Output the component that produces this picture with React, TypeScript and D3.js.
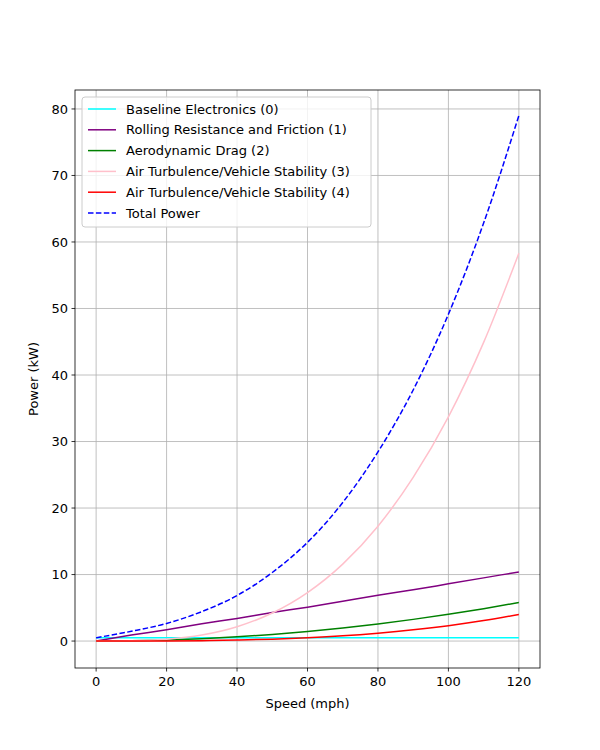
import React from 'react';
import * as d3 from 'd3';

const speeds = [0, 10, 20, 30, 40, 50, 60, 70, 80, 90, 100, 110, 120];
const baseline = [0.5, 0.5, 0.5, 0.5, 0.5, 0.5, 0.5, 0.5, 0.5, 0.5, 0.5, 0.5, 0.5];
const rolling = [0, 0.9, 1.7, 2.6, 3.4, 4.3, 5.1, 6.0, 6.9, 7.7, 8.6, 9.5, 10.4];
const aero = [0, 0.04, 0.16, 0.36, 0.64, 1.0, 1.45, 1.97, 2.58, 3.26, 4.03, 4.87, 5.8];
const turb3 = [0, 0.03, 0.27, 0.91, 2.16, 4.22, 7.29, 11.57, 17.27, 24.6, 33.7, 44.9, 58.3];
const turb4 = [0, 0.002, 0.02, 0.06, 0.15, 0.29, 0.5, 0.79, 1.19, 1.69, 2.31, 3.08, 4.0];
const total = [0.5, 1.47, 2.65, 4.43, 6.85, 10.31, 14.84, 20.83, 28.44, 37.75, 49.14, 62.85, 79.0];

const xTicks = [0, 20, 40, 60, 80, 100, 120];
const yTicks = [0, 10, 20, 30, 40, 50, 60, 70, 80];

const series = [
  { name: 'Baseline Electronics (0)', values: baseline, color: 'cyan', dash: '' },
  { name: 'Rolling Resistance and Friction (1)', values: rolling, color: 'purple', dash: '' },
  { name: 'Aerodynamic Drag (2)', values: aero, color: 'green', dash: '' },
  { name: 'Air Turbulence/Vehicle Stability (3)', values: turb3, color: 'pink', dash: '' },
  { name: 'Air Turbulence/Vehicle Stability (4)', values: turb4, color: 'red', dash: '' },
  { name: 'Total Power', values: total, color: 'blue', dash: '5.5,2.4' },
];

const L = 75, R = 540, T = 90, B = 668;

export default function App() {
  const x = d3.scaleLinear().domain([-6, 126]).range([L, R]);
  const y = d3.scaleLinear().domain([-4.05, 82.85]).range([B, T]);
  const line = d3.line<number>()
    .x((_, i) => x(speeds[i]))
    .y(d => y(d))
    .curve(d3.curveMonotoneX);
  const font = 'DejaVu Sans, sans-serif';

  return (
    <svg width={600} height={750} style={{ position: 'absolute', left: 0, top: 0 }} fontFamily={font}>
      <rect width={600} height={750} fill="white" />
      <g stroke="#b0b0b0" strokeWidth={0.8}>
        {xTicks.map(t => <line key={'gx' + t} x1={x(t)} x2={x(t)} y1={T} y2={B} />)}
        {yTicks.map(t => <line key={'gy' + t} x1={L} x2={R} y1={y(t)} y2={y(t)} />)}
      </g>
      {series.map(s => (
        <path key={s.name} d={line(s.values) || ''} fill="none" stroke={s.color}
          strokeWidth={1.5} strokeDasharray={s.dash} />
      ))}
      <rect x={L} y={T} width={R - L} height={B - T} fill="none" stroke="black" strokeWidth={0.8} />
      {xTicks.map(t => (
        <g key={'tx' + t}>
          <line x1={x(t)} x2={x(t)} y1={B} y2={B + 3.5} stroke="black" strokeWidth={0.8} />
          <text x={x(t)} y={B + 18} textAnchor="middle" fontSize={13}>{t}</text>
        </g>
      ))}
      {yTicks.map(t => (
        <g key={'ty' + t}>
          <line x1={L - 3.5} x2={L} y1={y(t)} y2={y(t)} stroke="black" strokeWidth={0.8} />
          <text x={L - 7} y={y(t)} dy="0.35em" textAnchor="end" fontSize={13}>{t}</text>
        </g>
      ))}
      <text x={(L + R) / 2} y={708} textAnchor="middle" fontSize={13}>Speed (mph)</text>
      <text transform={`translate(38,${(T + B) / 2}) rotate(-90)`} textAnchor="middle" fontSize={13}>Power (kW)</text>
      <g>
        <rect x={82} y={97} width={289} height={130} rx={3} fill="white" fillOpacity={0.8} stroke="#cccccc" />
        {series.map((s, i) => (
          <g key={'lg' + s.name} transform={`translate(0,${109 + i * 20.8})`}>
            <line x1={88} x2={116} y1={0} y2={0} stroke={s.color} strokeWidth={1.5} strokeDasharray={s.dash} />
            <text x={126} y={0} dy="0.35em" fontSize={13}>{s.name}</text>
          </g>
        ))}
      </g>
    </svg>
  );
}
